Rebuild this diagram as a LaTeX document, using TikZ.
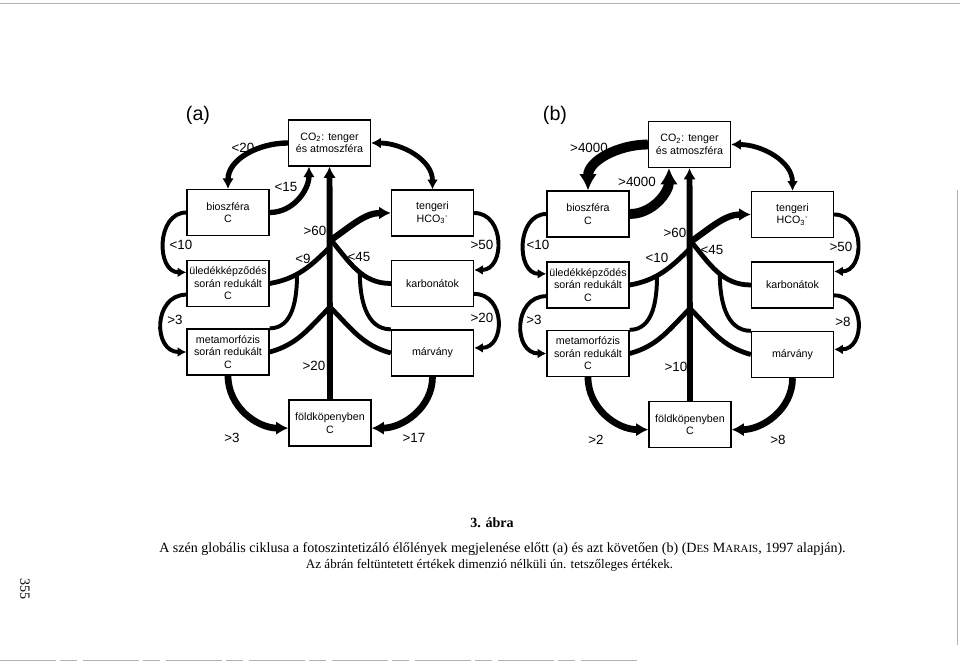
\documentclass[tikz,border=0pt]{standalone}
\usepackage{fontspec}
\setmainfont{Liberation Serif}
\setsansfont{Liberation Sans}
\usetikzlibrary{calc,arrows.meta}

\newcommand{\boxfont}{\sffamily\fontsize{7.6}{8.9}\selectfont}
\newcommand{\valfont}{\sffamily\fontsize{9.5}{11}\selectfont}
\newcommand{\capfont}{\rmfamily\fontsize{10}{12}\selectfont}
\newcommand{\fakesc}[2]{#1{\fontsize{7.8}{9}\selectfont #2}}

\tikzset{
	pool/.style={draw, line width=0.9pt, minimum width=2.05cm, minimum height=1.15cm,
		inner sep=1pt, align=center, font=\boxfont},
	flux/.style={line width=2.8pt},
	arrowed/.style={-{Latex[length=2.5pt 1.3, width=3pt 1.4]}},
	twoway/.style={{Latex[length=2.5pt 1.3, width=3pt 1.4]}-{Latex[length=2.5pt 1.3, width=3pt 1.4]}},
	val/.style={font=\valfont, inner sep=0pt},
	scanedge/.style={gray!60, line width=0.5pt},
}

% one carbon cycle: #1 prefix, #2/#3 shift, #4 width of the biosphere fluxes
\newcommand{\cyclepanel}[4]{%
	\begin{scope}[shift={(#2,#3)}]
		% reservoirs
		\node[pool] (#1co2)  at (329.5,-143) {CO\textsubscript{2}: tenger\\és atmoszféra};
		\node[pool] (#1bio)  at (228,-212.5) {bioszféra\\C};
		\node[pool] (#1hco)  at (432.5,-213) {tengeri\\HCO\textsubscript{3}\textsuperscript{-}};
		\node[pool] (#1sed)  at (228,-283.5) {üledékképződés\\során redukált\\C};
		\node[pool] (#1carb) at (432.5,-283.5) {karbonátok};
		\node[pool] (#1meta) at (228,-352) {metamorfózis\\során redukált\\C};
		\node[pool] (#1marb) at (432.5,-353) {márvány};
		\node[pool] (#1mant) at (330,-423) {földköpenyben\\C};

		% junctions on the outgassing line
		\coordinate (#1j0) at (331,-240);
		\coordinate (#1j1) at (330,-247);
		\coordinate (#1j2) at (330,-307);

		% biosphere exchange
		\draw[flux, line width=#4, arrowed] (#1co2.west) to[out=180, in=90] (#1bio.north);
		\draw[flux, line width=#4, arrowed] (#1bio.east) to[out=0, in=-90] (#1co2.229);

		% ocean exchange
		\draw[flux, line width=3.4pt, twoway] (#1co2.east) to[out=0, in=90] (#1hco.north);
		\draw[flux, line width=4.5pt, arrowed] (#1j0) to[out=35, in=180] (#1hco.west);

		% side loops
		\draw[flux, arrowed] (#1bio.west) to[out=180, in=180, looseness=1.3] (#1sed.165);
		\draw[flux, arrowed] (#1sed.195) to[out=180, in=180, looseness=1.5] (#1meta.west);
		\draw[flux, arrowed] (#1hco.east) to[out=0, in=0, looseness=1.4] (#1carb.18);
		\draw[flux, arrowed] (#1carb.-14) to[out=0, in=0, looseness=1.5] (#1marb.7);

		% into the mantle
		\draw[flux, line width=4.8pt, arrowed] (#1meta.south) to[out=-90, in=180] (#1mant.187);
		\draw[flux, line width=4.8pt, arrowed] (#1marb.south) to[out=-90, in=0] (#1mant.-7);

		% outgassing tree
		\draw[flux, line width=4.2pt, arrowed] (#1mant.north) -- (#1co2.south);
		\draw[flux, line width=3.4pt] (#1sed.east) to[out=10, in=225] coordinate[pos=0.4] (#1sb) (#1j1);
		\draw[flux, line width=3.4pt] (#1meta.east) to[out=15, in=225] (#1j2);
		\draw[flux, line width=3.4pt] (#1carb.west) to[out=180, in=-50] coordinate[pos=0.45] (#1cb) (#1j0);
		\draw[flux, line width=3.4pt] (#1marb.west) to[out=165, in=-45] (#1j2);
		\draw[flux] (#1meta.north east) to[out=0, in=-90] (#1sb);
		\draw[flux] (#1marb.north west) to[out=180, in=-90] (#1cb);
	\end{scope}
}

\begin{document}
\begin{tikzpicture}[x=0.025cm, y=0.025cm]

	% page of the scan
	\useasboundingbox (0,0) rectangle (960,-669);
	\fill[white] (0,0) rectangle (960,-669);
	\draw[scanedge] (0,-3) -- (960,-3);
	\draw[scanedge, dash pattern=on 40pt off 3pt on 12pt off 4pt] (0,-660) -- (640,-660);
	\draw[scanedge] (957,-190) -- (957,-645);

	% the two cycles
	\cyclepanel{a}{0}{0}{3.8pt}
	\cyclepanel{b}{360}{-1.5}{7pt}

	% panel titles
	\node[font=\sffamily\fontsize{14}{16}\selectfont] (atitle) at (198,-115) {(a)};
	\node[font=\sffamily\fontsize{14}{16}\selectfont] (btitle) at (555,-115) {(b)};

	% values (a)
	\node[val] (a1)  at (243,-148) {<20};
	\node[val] (a2)  at (286,-187) {<15};
	\node[val] (a3)  at (315,-231) {>60};
	\node[val] (a4)  at (181,-245) {<10};
	\node[val] (a5)  at (303,-259) {<9};
	\node[val] (a6)  at (359,-257) {<45};
	\node[val] (a7)  at (482,-245) {>50};
	\node[val] (a8)  at (175,-320) {>3};
	\node[val] (a9)  at (482,-318) {>20};
	\node[val] (a10) at (314,-366) {>20};
	\node[val] (a11) at (232,-438) {>3};
	\node[val] (a12) at (414,-438) {>17};

	% values (b)
	\node[val] (b1)  at (589,-148) {>4000};
	\node[val] (b2)  at (637,-182) {>4000};
	\node[val] (b3)  at (675,-233) {>60};
	\node[val] (b4)  at (538,-245) {<10};
	\node[val] (b5)  at (657,-258) {<10};
	\node[val] (b6)  at (712,-250) {<45};
	\node[val] (b7)  at (841,-247) {>50};
	\node[val] (b8)  at (534,-320) {>3};
	\node[val] (b9)  at (843,-322) {>8};
	\node[val] (b10) at (676,-367) {>10};
	\node[val] (b11) at (596,-440) {>2};
	\node[val] (b12) at (778,-440) {>8};

	% caption
	\node[font=\capfont\bfseries] (figno) at (492,-523) {3. ábra};
	\node[font=\capfont] (capline) at (502.5,-549) {A szén globális ciklusa a fotoszintetizáló élőlények megjelenése előtt (a) és azt követően (b) (\fakesc{D}{ES} \fakesc{M}{ARAIS}, 1997 alapján).};
	\node[font=\rmfamily\fontsize{9.3}{11}\selectfont] (capnote) at (489.5,-565) {Az ábrán feltüntetett értékek dimenzió nélküli ún. tetszőleges értékek.};

	% page number
	\node[font=\capfont, rotate=-90] (pageno) at (25,-589) {355};

\end{tikzpicture}
\end{document}
